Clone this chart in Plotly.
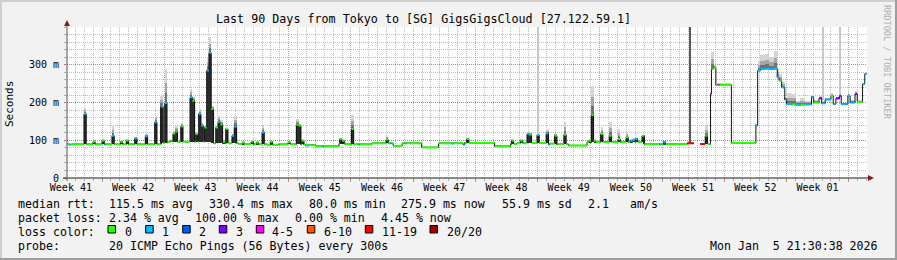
import plotly.graph_objects as go

# ---------------- data ----------------
END_DAY = 90.0
Y_MAX = 400.5

# baseline median steps: start day, median ms, smoke top ms, loss class
BASE_DAY = [0.0, 0.3, 0.45, 4.2, 4.4, 10.6, 11.3, 14.2, 14.35, 16.3, 19.3, 20.9, 21.05,
            22.5, 23.8, 23.95, 26.8, 27.0, 27.2, 28.0, 28.7, 28.85, 30.6, 31.3, 32.8, 32.95,
            34.3, 36.35, 36.5, 36.7, 37.7, 38.0, 38.15, 39.9, 41.8, 43.3, 43.45, 44.4, 44.55,
            44.75, 48.1, 49.9, 50.6, 51.25, 51.4, 52.1, 54.15, 54.3, 55.05, 55.2, 56.4, 58.5,
            64.9, 66.6, 66.85, 69.8, 70.5, 71.25, 71.95, 72.4, 72.5, 72.75, 73.0, 73.2, 73.4,
            74.74, 77.5, 77.7, 78.0, 78.5, 79.0, 79.5, 79.9, 80.1, 80.4, 80.75, 80.95, 81.5,
            82.0, 82.5, 83.0, 83.75, 84.0, 84.6, 84.9, 85.3, 85.95, 86.2, 86.5, 86.9, 87.1,
            87.85, 88.1, 88.65, 88.9, 89.5, 89.75]
BASE_MS = [89, 88, 89, 89, 89, 93, 96, 96, 96, 92, 90, 89, 89,
           88, 89, 89, 87, 86, 87, 84, 84, 84, 91, 89, 89, 89,
           92, 92, 92, 85, 92, 92, 92, 81, 92, 91, 92, 93, 88,
           93, 84, 90, 92, 93, 92, 93, 89, 91, 89, 90, 86, 95,
           90, 89, 90, 92, None, 90, 90, 223, 289, 293, 247, 247, 247,
           93, 139, 285, 289, 290, 289, 290, 267, 258, 240, 208, 196, 195,
           194, 194, 195, 214, 200, 211, 198, 208, 218, 196, 211, 218, 196,
           218, 200, 223, 202, 249, 276]
BASE_TOP = [91, 90, 91, 91, 91, 95, 98, 98, 98, 94, 92, 91, 91,
            90, 91, 91, 89, 88, 89, 86, 86, 86, 94, 91, 91, 91,
            94, 94, 94, 87, 94, 94, 94, 83, 94, 93, 94, 95, 90,
            95, 86, 92, 94, 95, 94, 95, 91, 93, 91, 92, 88, 97,
            92, 91, 92, 94, None, 92, 92, 226, 333, 300, 250, 250, 250,
            95, 142, 310, 325, 330, 320, 338, 290, 275, 255, 215, 225, 222,
            205, 212, 205, 220, 208, 218, 205, 212, 225, 200, 215, 225, 200,
            222, 208, 230, 205, 252, 280]
BASE_LOSS = [0, 1, 0, 1, 0, 0, 0, 1, 0, 0, 0, 1, 0,
             0, 1, 0, 0, 1, 0, 0, 1, 0, 0, 0, 1, 0,
             0, 1, 0, 0, 0, 1, 0, 0, 0, 1, 0, 0, 1,
             0, 0, 0, 0, 1, 0, 0, 1, 0, 1, 0, 0, 0,
             0, 1, 0, 6, 0, 6, 0, 4, 0, 0, 0, 4, 0,
             0, 1, 1, 1, 1, 1, 1, 1, 0, 1, 1, 1, 0,
             1, 0, 1, 1, 0, 3, 1, 1, 0, 1, 3, 3, 1,
             1, 1, 3, 0, 1, 1]

# short latency spikes: day, median ms, smoke top ms, loss class
SPIKE_DAY = [1.91, 2.92, 3.94, 5.06, 6.0, 6.67, 7.61, 8.81, 9.86, 10.57, 10.99, 11.62, 11.92,
             12.18, 12.79, 13.84, 14.1, 14.48, 14.81, 15.07, 15.45, 15.71, 15.97, 16.23,
             16.73, 16.99, 17.25, 17.55, 17.85, 18.56, 18.82, 19.69, 20.7, 21.3, 21.94, 22.87,
             24.86, 25.8, 26.06, 26.4, 30.67, 30.95, 31.99, 35.89, 44.95, 50.0, 51.0, 51.75,
             52.01, 52.87, 53.9, 54.86, 55.9, 58.7, 58.98, 59.24, 60.03, 61.0, 61.99, 62.89,
             63.35, 63.65, 63.95, 64.69, 67.08, 71.8]
SPIKE_MS = [170, 96, 99, 112, 96, 99, 105, 110, 148, 189, 199, 99, 118,
            123, 137, 214, 205, 117, 170, 139, 134, 285, 332, 183,
            134, 148, 142, 96, 130, 112, 136, 94, 96, 94, 121, 96,
            95, 141, 139, 99, 103, 99, 130, 102, 103, 99, 99, 117,
            115, 114, 118, 112, 115, 99, 167, 99, 117, 112, 103, 108,
            99, 101, 103, 112, 95, 112]
SPIKE_TOP = [187, 100, 104, 139, 98, 101, 108, 117, 165, 218, 289, 100, 122,
             139, 146, 236, 215, 120, 183, 145, 137, 320, 373, 190,
             137, 165, 155, 100, 133, 118, 165, 96, 99, 96, 139, 98,
             97, 156, 142, 101, 106, 101, 167, 112, 106, 101, 101, 120,
             118, 117, 130, 116, 148, 101, 245, 101, 135, 148, 130, 122,
             102, 104, 106, 114, 97, 139]
SPIKE_LOSS = [1, 0, 0, 1, 0, 0, 1, 1, 1, 1, 1, 0, 0,
              0, 0, 1, 0, 0, 1, 1, 0, 1, 1, 0,
              0, 1, 0, 0, 0, 1, 1, 0, 0, 0, 1, 0,
              0, 0, 0, 0, 0, 0, 0, 0, 0, 0, 0, 1,
              0, 1, 1, 0, 0, 0, 0, 0, 0, 0, 0, 0,
              1, 1, 1, 0, 1, 0]

# thin full-height smoke streaks: day, median ms below
STREAK_DAY = [52.99, 85.1, 87.0]
STREAK_BASE = [114, 208, 218]

# total-loss period: day, median ms below
OUTAGE_DAY = [70.0]
OUTAGE_BASE = [92]

LOSS_LABELS = ["0", "1", "2", "3", "4-5", "6-10", "11-19", "20/20"]
LOSS_COLORS = ["#26ff00", "#00b8ff", "#0059ff", "#7e00ff", "#ff00ff", "#ff5500", "#ff0000", "#a10000"]

WEEK_LABELS = ["Week 41", "Week 42", "Week 43", "Week 44", "Week 45", "Week 46", "Week 47",
               "Week 48", "Week 49", "Week 50", "Week 51", "Week 52", "Week 01"]
FIRST_WEEK_START = 3.94  # day offset of first week boundary
Y_TICKS = [0, 100, 200, 300]
Y_TICK_LABELS = ["0", "100 m", "200 m", "300 m"]

MEDIAN_STATS = [115.5, 330.4, 80.0, 275.9, 55.9, 2.1]
LOSS_STATS = [2.34, 100.00, 0.00, 4.45]
TITLE = "Last 90 Days from Tokyo to [SG] GigsGigsCloud [27.122.59.1]"
PROBE = "20 ICMP Echo Pings (56 Bytes) every 300s"
STAMP = "Mon Jan  5 21:30:38 2026"

# ---------------- build step segments ----------------
SPIKE_W = 0.26


def base_at(t):
    i = 0
    for k, d in enumerate(BASE_DAY):
        if d <= t:
            i = k
    return BASE_MS[i], BASE_TOP[i], BASE_LOSS[i]


bounds = sorted(set([round(v, 4) for v in BASE_DAY + SPIKE_DAY + [d + SPIKE_W for d in SPIKE_DAY] + [END_DAY]]))
segs = []  # (start, end, median, top, loss, low)
for a, b in zip(bounds[:-1], bounds[1:]):
    mid = (a + b) / 2
    val = None
    base = base_at(mid)
    for k, d in enumerate(SPIKE_DAY):
        if d <= mid < d + SPIKE_W:
            val = (SPIKE_MS[k], SPIKE_TOP[k], SPIKE_LOSS[k], base[0])
    if val is None:
        val = base + (base[0],)
    segs.append((a, b) + val)

fig = go.Figure()

# smoke above median (gradient by layers)
for frac, col in [(1.0, "#d4d4d4"), (0.6, "#a6a6a6"), (0.3, "#727272")]:
    xs, bs, hs, ws = [], [], [], []
    for a, b, ms, top, loss, low in segs:
        if ms is None or top is None or top - ms < 1.5:
            continue
        xs.append((a + b) / 2)
        bs.append(ms)
        hs.append((top - ms) * frac)
        ws.append(b - a)
    fig.add_trace(go.Bar(x=xs, y=hs, base=bs, width=ws, marker=dict(color=col, line=dict(width=0)),
                         showlegend=False, hoverinfo="skip"))

# smoke below median inside spikes (down to the baseline)
xs, bs, hs, ws = [], [], [], []
for a, b, ms, top, loss, low in segs:
    if ms is None or low is None or ms - low < 3:
        continue
    xs.append((a + b) / 2)
    bs.append(low)
    hs.append(ms - low)
    ws.append(b - a)
fig.add_trace(go.Bar(x=xs, y=hs, base=bs, width=ws, marker=dict(color="#2c2c2c", line=dict(width=0)),
                     showlegend=False, hoverinfo="skip"))

# thin streaks
fig.add_trace(go.Bar(x=STREAK_DAY, y=[Y_MAX - b for b in STREAK_BASE], base=STREAK_BASE,
                     width=[0.13] * len(STREAK_DAY), marker=dict(color="#c8c8c8", line=dict(width=0)),
                     showlegend=False, hoverinfo="skip"))
# outage
fig.add_trace(go.Bar(x=[d + 0.12 for d in OUTAGE_DAY], y=[Y_MAX - b for b in OUTAGE_BASE],
                     base=OUTAGE_BASE, width=[0.24] * len(OUTAGE_DAY),
                     marker=dict(color="#585858", line=dict(width=0)), showlegend=False, hoverinfo="skip"))

# black median step line
lx, ly = [], []
for i, (a, b, ms, top, loss, low) in enumerate(segs):
    if ms is None:
        continue
    lx.append(a)
    ly.append(ms)
    nxt = segs[i + 1] if i + 1 < len(segs) else None
    if nxt is None or nxt[2] is None:
        lx += [b, None]
        ly += [ms, None]
fig.add_trace(go.Scatter(x=lx, y=ly, mode="lines", line=dict(color="#111111", width=1, shape="hv"),
                         showlegend=False, hoverinfo="skip"))

# coloured median segments by loss
for li, col in enumerate(LOSS_COLORS):
    cx, cy = [], []
    for a, b, ms, top, loss, low in segs:
        if ms is not None and loss == li:
            cx += [a, b, None]
            cy += [ms, ms, None]
    if cx:
        fig.add_trace(go.Scatter(x=cx, y=cy, mode="lines", line=dict(color=col, width=2),
                                 showlegend=False, hoverinfo="skip"))

# invisible trace for the grid axis
fig.add_trace(go.Scatter(x=[0, END_DAY], y=[0, 0], xaxis="x2", mode="lines",
                         line=dict(width=0), showlegend=False, hoverinfo="skip"))

MONO = "DejaVu Sans Mono"
L, R, T, B = 67, 30, 27, 82
W, H = 897, 260
PW, PH = W - L - R, H - T - B


def px(x):
    return (x - L) / PW


def py(y):
    return (H - B - y) / PH


week_centers = [FIRST_WEEK_START - 3.5 + 7 * k for k in range(len(WEEK_LABELS))]

fig.update_layout(
    width=W, height=H, margin=dict(l=L, r=R, t=T, b=B, pad=0),
    paper_bgcolor="#f2f2f2", plot_bgcolor="#ffffff", barmode="overlay", bargap=0,
    font=dict(family=MONO, color="#000000"),
    xaxis=dict(range=[0, END_DAY], tickvals=week_centers, ticktext=WEEK_LABELS, showgrid=False,
               zeroline=False, showline=False, ticks="", tickfont=dict(size=10, family=MONO),
               ticklabelstandoff=2, fixedrange=True),
    xaxis2=dict(range=[0, END_DAY], overlaying="x", side="bottom", showticklabels=False,
                tick0=FIRST_WEEK_START, dtick=7, showgrid=True, gridcolor="rgba(222,79,79,0.6)",
                griddash="1px,1px", gridwidth=1, ticks="outside", ticklen=3,
                tickcolor="rgba(222,79,79,0.8)", zeroline=False, showline=False,
                minor=dict(tick0=FIRST_WEEK_START % 1, dtick=1, showgrid=True,
                           gridcolor="rgba(143,143,143,0.6)", griddash="1px,1px", ticks="outside",
                           ticklen=2, tickcolor="rgba(143,143,143,0.7)")),
    yaxis=dict(range=[0, Y_MAX], tickvals=Y_TICKS, ticktext=Y_TICK_LABELS, showgrid=True,
               gridcolor="rgba(222,79,79,0.6)", griddash="1px,1px", zeroline=False, showline=False,
               ticks="outside", ticklen=2, tickcolor="rgba(222,79,79,0.8)",
               tickfont=dict(size=10, family=MONO), ticklabelstandoff=3,
               minor=dict(dtick=20, showgrid=True, gridcolor="rgba(143,143,143,0.6)", griddash="1px,1px",
                          ticks="outside", ticklen=2, tickcolor="rgba(143,143,143,0.7)")),
)

shapes = []
# frame shading
shapes.append(dict(type="line", xref="paper", yref="paper", x0=px(0), x1=px(W), y0=py(1), y1=py(1),
                   line=dict(color="#cfcfcf", width=2)))
shapes.append(dict(type="line", xref="paper", yref="paper", x0=px(1), x1=px(1), y0=py(0), y1=py(H),
                   line=dict(color="#cfcfcf", width=2)))
shapes.append(dict(type="line", xref="paper", yref="paper", x0=px(0), x1=px(W), y0=py(H - 1), y1=py(H - 1),
                   line=dict(color="#9e9e9e", width=2)))
shapes.append(dict(type="line", xref="paper", yref="paper", x0=px(W - 1), x1=px(W - 1), y0=py(0), y1=py(H),
                   line=dict(color="#9e9e9e", width=2)))
# axes
shapes.append(dict(type="line", xref="paper", yref="paper", x0=px(63), x1=px(870), y0=0, y1=0,
                   line=dict(color="#1f1f1f", width=1)))
shapes.append(dict(type="line", xref="paper", yref="paper", x0=0, x1=0, y0=py(181), y1=py(24),
                   line=dict(color="#555555", width=1)))
shapes.append(dict(type="path", xref="paper", yref="paper",
                   path=f"M {px(868)} {py(175)} L {px(874)} {py(178)} L {px(868)} {py(181)} Z",
                   fillcolor="#801f1f", line=dict(width=0)))
shapes.append(dict(type="path", xref="paper", yref="paper",
                   path=f"M {px(64)} {py(26)} L {px(67)} {py(20)} L {px(70)} {py(26)} Z",
                   fillcolor="#801f1f", line=dict(width=0)))
# loss legend boxes
BOX_X = [108, 145.7, 182.7, 219.3, 256.3, 307.3, 365.3, 430]
LAB_X = [123, 160, 197.3, 233.7, 270.3, 322, 380, 444.5]
for bx, col in zip(BOX_X, LOSS_COLORS):
    shapes.append(dict(type="rect", xref="paper", yref="paper", x0=px(bx), x1=px(bx + 7.5),
                       y0=py(233), y1=py(225.5), fillcolor=col, line=dict(color="#000000", width=1)))
fig.update_layout(shapes=shapes)

ann = []


def txt(s, x, y, size=11.6, anchor="left", color="#000000", angle=0):
    ann.append(dict(text=s, x=px(x), y=py(y), xref="paper", yref="paper", showarrow=False,
                    xanchor=anchor, yanchor="middle", textangle=angle,
                    font=dict(family=MONO, size=size, color=color)))


txt(TITLE, 423, 19, size=11.7, anchor="center")
txt("Seconds", 10, 104, size=11, anchor="center", angle=-90)
txt("RRDTOOL / TOBI OETIKER", 887, 63, size=8.6, anchor="center", color="#b0b0b0", angle=90)

r1 = 204.3
txt("median rtt:", 16, r1)
txt(f"{MEDIAN_STATS[0]:.1f} ms avg", 107.3, r1)
txt(f"{MEDIAN_STATS[1]:.1f} ms max", 207.3, r1)
txt(f"{MEDIAN_STATS[2]:.1f} ms min", 307, r1)
txt(f"{MEDIAN_STATS[3]:.1f} ms now", 399.3, r1)
txt(f"{MEDIAN_STATS[4]:.1f} ms sd", 500, r1)
txt(f"{MEDIAN_STATS[5]:.1f}", 586, r1)
txt("am/s", 628.3, r1)
r2 = 218.3
txt("packet loss:", 16, r2)
txt(f"{LOSS_STATS[0]:.2f} % avg", 107.3, r2)
txt(f"{LOSS_STATS[1]:.2f} % max", 193.3, r2)
txt(f"{LOSS_STATS[2]:.2f} % min", 293.3, r2)
txt(f"{LOSS_STATS[3]:.2f} % now", 379, r2)
r3 = 232.3
txt("loss color:", 16, r3)
for lx_, lab in zip(LAB_X, LOSS_LABELS):
    txt(lab, lx_, r3)
r4 = 246
txt("probe:", 16, r4)
txt(PROBE, 107.3, r4)
txt(STAMP, 880, r4, anchor="right")
fig.update_layout(annotations=ann)

fig.write_html("out.html")
